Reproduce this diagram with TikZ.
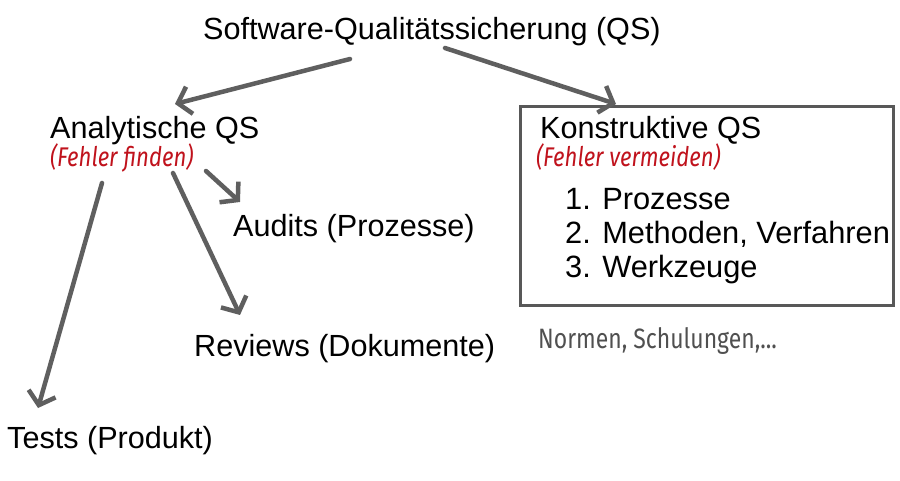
\documentclass[tikz,border=0pt]{standalone}
\usepackage{fontspec}
\setmainfont{Liberation Sans}
\newfontfamily\handfont[FakeStretch=0.82]{Fira Sans}
\usetikzlibrary{arrows.meta}
\definecolor{arrowgray}{RGB}{95,95,95}
\definecolor{boxgray}{RGB}{88,88,88}
\definecolor{handred}{RGB}{192,18,28}
\definecolor{handgray}{RGB}{80,80,80}
\tikzset{
  lbl/.style={anchor=base west, inner sep=0pt, font=\fontsize{30.6bp}{36bp}\selectfont},
  listlbl/.style={anchor=base west, inner sep=0pt, font=\fontsize{30.8bp}{34bp}\selectfont},
  hand/.style={anchor=base west, inner sep=0pt, text=handred, font=\handfont\itshape\fontsize{27bp}{30bp}\selectfont},
  handnote/.style={anchor=base west, inner sep=0pt, text=handgray, font=\handfont\fontsize{28bp}{30bp}\selectfont},
  conn/.style={draw=arrowgray, line width=4.5bp, line cap=round, line join=round,
    -{Straight Barb[length=12bp,width=28bp]}},
  qsbox/.style={draw=boxgray, line width=3bp, minimum width=373bp, minimum height=198bp, inner sep=0pt}
}
\begin{document}
\begin{tikzpicture}[x=1bp,y=-1bp]
\useasboundingbox (0,0) rectangle (900,481);
\fill[white] (0,0) rectangle (900,481);
% box
\node[qsbox] (kbox) at (706.5,206) {};
% texts
\node[lbl] (title) at (203,40) {Software-Qualitätssicherung (QS)};
\node[lbl] (ana) at (50,139) {Analytische QS};
\node[hand] (anahand) at (50,167) {(Fehler finden)};
\node[lbl] (kon) at (540,139) {Konstruktive QS};
\node[hand] (konhand) at (536,167) {(Fehler vermeiden)};
\node[listlbl] (l1) at (565,210) {1. Prozesse};
\node[listlbl] (l2) at (565,244) {2. Methoden, Verfahren};
\node[listlbl] (l3) at (565,278) {3. Werkzeuge};
\node[handnote] (note) at (538,349) {Normen, Schulungen,...};
\node[lbl] (audits) at (233,237) {Audits (Prozesse)};
\node[lbl] (reviews) at (194,357) {Reviews (Dokumente)};
\node[lbl] (tests) at (7,448) {Tests (Produkt)};
% connector end points
\coordinate (t1) at (350,59);
\coordinate (t2) at (445,48);
\coordinate (a1) at (175,104);
\coordinate (k1) at (616,104);
\coordinate (s1) at (102,183);
\coordinate (s2) at (173,173);
\coordinate (s3) at (206,171);
\coordinate (e1) at (38,408);
\coordinate (e2) at (240,315);
\coordinate (e3) at (240,202);
\draw[conn] (t1) -- (a1);
\draw[conn] (t2) -- (k1);
\draw[conn] (s1) -- (e1);
\draw[conn] (s2) -- (e2);
\draw[conn] (s3) -- (e3);
\end{tikzpicture}
\end{document}
